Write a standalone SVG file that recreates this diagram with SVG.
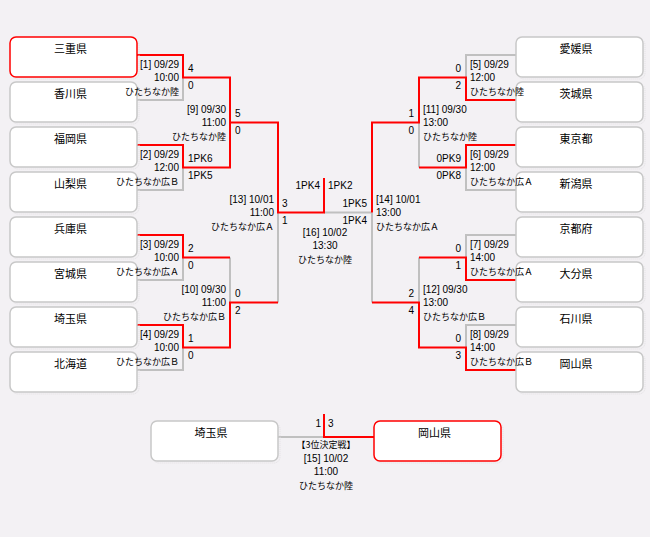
<svg xmlns="http://www.w3.org/2000/svg" width="650" height="537" viewBox="0 0 650 537">
<defs>
<style>
.bg{fill:#f3f1f4}
.box rect.b{fill:#ffffff;stroke:#c8c8c8;stroke-width:1.5}
.box rect.s{fill:none;stroke:#e2e0e3;stroke-width:1;stroke-dasharray:1 1}
.box.win rect.b{stroke:#ff0000}
.nm{font-family:"Noto Sans CJK JP","Liberation Sans",sans-serif;font-size:11px;fill:#000;text-anchor:middle}
.t{font-family:"Liberation Sans","Noto Sans CJK JP",sans-serif;font-size:10px;fill:#000}
.j{font-family:"Noto Sans CJK JP","Liberation Sans",sans-serif;font-size:9px;fill:#000}
.e{text-anchor:end}
.m{text-anchor:middle}
.g{fill:none;stroke:#c0c0c0;stroke-width:2}
.r{fill:none;stroke:#ff0000;stroke-width:2}
</style>
</defs>
<rect class="bg" x="0" y="0" width="650" height="537"/>

<g id="connectors">
  <!-- left gray -->
  <polyline class="g" points="137,100 183,100 183,77.5"/>
  <polyline class="g" points="137,190 183,190 183,167.5"/>
  <polyline class="g" points="137,280 183,280 183,257.5"/>
  <polyline class="g" points="137,370 183,370 183,347.5"/>
  <polyline class="g" points="230,257.5 230,302.5"/>
  <polyline class="g" points="278,212.5 278,302.5"/>
  <polyline class="g" points="324,212.5 372,212.5"/>
  <!-- right gray -->
  <polyline class="g" points="516,55 466,55 466,77.5"/>
  <polyline class="g" points="516,190 466,190 466,167.5"/>
  <polyline class="g" points="516,235 466,235 466,257.5"/>
  <polyline class="g" points="516,325 466,325 466,347.5"/>
  <polyline class="g" points="419,122.5 419,167.5"/>
  <polyline class="g" points="419,257.5 419,302.5"/>
  <polyline class="g" points="372,212.5 372,302.5"/>
  <!-- third place gray -->
  <polyline class="g" points="278,437 324,437"/>

  <!-- left red -->
  <polyline class="r" points="137,55 183,55 183,77.5 230,77.5 230,122.5 278,122.5 278,212.5 324,212.5 324,178"/>
  <polyline class="r" points="137,145 183,145 183,167.5 230,167.5 230,122.5"/>
  <polyline class="r" points="137,235 183,235 183,257.5 230,257.5"/>
  <polyline class="r" points="137,325 183,325 183,347.5 230,347.5 230,302.5 278,302.5"/>
  <!-- right red -->
  <polyline class="r" points="516,100 466,100 466,77.5 419,77.5 419,122.5 372,122.5 372,212.5"/>
  <polyline class="r" points="516,145 466,145 466,167.5 419,167.5"/>
  <polyline class="r" points="516,280 466,280 466,257.5 419,257.5"/>
  <polyline class="r" points="516,370 466,370 466,347.5 419,347.5 419,302.5 372,302.5"/>
  <!-- third place red -->
  <polyline class="r" points="324,414 324,437 374,437"/>
</g>

<!-- left teams -->
<g id="team-mie" class="box win"><rect class="s" x="12" y="39" width="127" height="40" rx="6"/><rect class="b" x="10" y="37" width="127" height="40" rx="6"/><text class="nm" x="70.5" y="53">三重県</text></g>
<g id="team-kagawa" class="box"><rect class="s" x="12" y="84" width="127" height="40" rx="6"/><rect class="b" x="10" y="82" width="127" height="40" rx="6"/><text class="nm" x="70.5" y="98">香川県</text></g>
<g id="team-fukuoka" class="box"><rect class="s" x="12" y="129" width="127" height="40" rx="6"/><rect class="b" x="10" y="127" width="127" height="40" rx="6"/><text class="nm" x="70.5" y="143">福岡県</text></g>
<g id="team-yamanashi" class="box"><rect class="s" x="12" y="174" width="127" height="40" rx="6"/><rect class="b" x="10" y="172" width="127" height="40" rx="6"/><text class="nm" x="70.5" y="188">山梨県</text></g>
<g id="team-hyogo" class="box"><rect class="s" x="12" y="219" width="127" height="40" rx="6"/><rect class="b" x="10" y="217" width="127" height="40" rx="6"/><text class="nm" x="70.5" y="233">兵庫県</text></g>
<g id="team-miyagi" class="box"><rect class="s" x="12" y="264" width="127" height="40" rx="6"/><rect class="b" x="10" y="262" width="127" height="40" rx="6"/><text class="nm" x="70.5" y="278">宮城県</text></g>
<g id="team-saitama" class="box"><rect class="s" x="12" y="309" width="127" height="40" rx="6"/><rect class="b" x="10" y="307" width="127" height="40" rx="6"/><text class="nm" x="70.5" y="323">埼玉県</text></g>
<g id="team-hokkaido" class="box"><rect class="s" x="12" y="354" width="127" height="40" rx="6"/><rect class="b" x="10" y="352" width="127" height="40" rx="6"/><text class="nm" x="70.5" y="368">北海道</text></g>

<!-- right teams -->
<g id="team-ehime" class="box"><rect class="s" x="518" y="39" width="127" height="40" rx="6"/><rect class="b" x="516" y="37" width="127" height="40" rx="6"/><text class="nm" x="576" y="53">愛媛県</text></g>
<g id="team-ibaraki" class="box"><rect class="s" x="518" y="84" width="127" height="40" rx="6"/><rect class="b" x="516" y="82" width="127" height="40" rx="6"/><text class="nm" x="576" y="98">茨城県</text></g>
<g id="team-tokyo" class="box"><rect class="s" x="518" y="129" width="127" height="40" rx="6"/><rect class="b" x="516" y="127" width="127" height="40" rx="6"/><text class="nm" x="576" y="143">東京都</text></g>
<g id="team-niigata" class="box"><rect class="s" x="518" y="174" width="127" height="40" rx="6"/><rect class="b" x="516" y="172" width="127" height="40" rx="6"/><text class="nm" x="576" y="188">新潟県</text></g>
<g id="team-kyoto" class="box"><rect class="s" x="518" y="219" width="127" height="40" rx="6"/><rect class="b" x="516" y="217" width="127" height="40" rx="6"/><text class="nm" x="576" y="233">京都府</text></g>
<g id="team-oita" class="box"><rect class="s" x="518" y="264" width="127" height="40" rx="6"/><rect class="b" x="516" y="262" width="127" height="40" rx="6"/><text class="nm" x="576" y="278">大分県</text></g>
<g id="team-ishikawa" class="box"><rect class="s" x="518" y="309" width="127" height="40" rx="6"/><rect class="b" x="516" y="307" width="127" height="40" rx="6"/><text class="nm" x="576" y="323">石川県</text></g>
<g id="team-okayama" class="box"><rect class="s" x="518" y="354" width="127" height="40" rx="6"/><rect class="b" x="516" y="352" width="127" height="40" rx="6"/><text class="nm" x="576" y="368">岡山県</text></g>

<!-- third place teams -->
<g id="third-saitama" class="box"><rect class="s" x="153" y="423" width="127" height="40" rx="6"/><rect class="b" x="151" y="421" width="127" height="40" rx="6"/><text class="nm" x="211" y="437">埼玉県</text></g>
<g id="third-okayama" class="box win"><rect class="s" x="376" y="423" width="127" height="40" rx="6"/><rect class="b" x="374" y="421" width="127" height="40" rx="6"/><text class="nm" x="434.5" y="437">岡山県</text></g>

<!-- left match labels -->
<g id="match-1">
<text class="t e" x="179" y="68">[1] 09/29</text><text class="t e" x="179" y="81">10:00</text><text class="j e" x="179" y="95">ひたちなか陸</text>
<text class="t" x="188" y="72">4</text><text class="t" x="188" y="89">0</text>
</g>
<g id="match-2">
<text class="t e" x="179" y="158">[2] 09/29</text><text class="t e" x="179" y="171">12:00</text><text class="j e" x="179" y="185">ひたちなか広Ｂ</text>
<text class="t" x="188" y="162">1PK6</text><text class="t" x="188" y="179">1PK5</text>
</g>
<g id="match-3">
<text class="t e" x="179" y="248">[3] 09/29</text><text class="t e" x="179" y="261">10:00</text><text class="j e" x="179" y="275">ひたちなか広Ａ</text>
<text class="t" x="188" y="252">2</text><text class="t" x="188" y="269">0</text>
</g>
<g id="match-4">
<text class="t e" x="179" y="338">[4] 09/29</text><text class="t e" x="179" y="351">10:00</text><text class="j e" x="179" y="365">ひたちなか広Ｂ</text>
<text class="t" x="188" y="342">1</text><text class="t" x="188" y="359">0</text>
</g>
<g id="match-9">
<text class="t e" x="226" y="113">[9] 09/30</text><text class="t e" x="226" y="126">11:00</text><text class="j e" x="226" y="140">ひたちなか陸</text>
<text class="t" x="235" y="117">5</text><text class="t" x="235" y="134">0</text>
</g>
<g id="match-10">
<text class="t e" x="226" y="293">[10] 09/30</text><text class="t e" x="226" y="306">11:00</text><text class="j e" x="226" y="320">ひたちなか広Ｂ</text>
<text class="t" x="235" y="297">0</text><text class="t" x="235" y="314">2</text>
</g>
<g id="match-13">
<text class="t e" x="274" y="203">[13] 10/01</text><text class="t e" x="274" y="216">11:00</text><text class="j e" x="274" y="230">ひたちなか広Ａ</text>
<text class="t" x="282" y="207">3</text><text class="t" x="282" y="224">1</text>
</g>

<!-- right match labels -->
<g id="match-5">
<text class="t" x="470" y="68">[5] 09/29</text><text class="t" x="470" y="81">12:00</text><text class="j" x="470" y="95">ひたちなか陸</text>
<text class="t e" x="461" y="72">0</text><text class="t e" x="461" y="89">2</text>
</g>
<g id="match-6">
<text class="t" x="470" y="158">[6] 09/29</text><text class="t" x="470" y="171">12:00</text><text class="j" x="470" y="185">ひたちなか広Ａ</text>
<text class="t e" x="461" y="162">0PK9</text><text class="t e" x="461" y="179">0PK8</text>
</g>
<g id="match-7">
<text class="t" x="470" y="248">[7] 09/29</text><text class="t" x="470" y="261">14:00</text><text class="j" x="470" y="275">ひたちなか広Ａ</text>
<text class="t e" x="461" y="252">0</text><text class="t e" x="461" y="269">1</text>
</g>
<g id="match-8">
<text class="t" x="470" y="338">[8] 09/29</text><text class="t" x="470" y="351">14:00</text><text class="j" x="470" y="365">ひたちなか広Ｂ</text>
<text class="t e" x="461" y="342">0</text><text class="t e" x="461" y="359">3</text>
</g>
<g id="match-11">
<text class="t" x="423" y="113">[11] 09/30</text><text class="t" x="423" y="126">13:00</text><text class="j" x="423" y="140">ひたちなか陸</text>
<text class="t e" x="414" y="117">1</text><text class="t e" x="414" y="134">0</text>
</g>
<g id="match-12">
<text class="t" x="423" y="293">[12] 09/30</text><text class="t" x="423" y="306">13:00</text><text class="j" x="423" y="320">ひたちなか広Ｂ</text>
<text class="t e" x="414" y="297">2</text><text class="t e" x="414" y="314">4</text>
</g>
<g id="match-14">
<text class="t" x="376" y="203">[14] 10/01</text><text class="t" x="376" y="216">13:00</text><text class="j" x="376" y="230">ひたちなか広Ａ</text>
<text class="t e" x="367" y="207">1PK5</text><text class="t e" x="367" y="224">1PK4</text>
</g>

<!-- final -->
<g id="match-16">
<text class="t e" x="320" y="189">1PK4</text><text class="t" x="328" y="189">1PK2</text>
<text class="t m" x="325" y="236">[16] 10/02</text><text class="t m" x="325" y="249">13:30</text><text class="j m" x="325" y="263">ひたちなか陸</text>
</g>

<!-- third place -->
<g id="match-15">
<text class="t e" x="321" y="427">1</text><text class="t" x="328" y="427">3</text>
<text class="j m" x="326" y="448">【3位決定戦】</text>
<text class="t m" x="326" y="462">[15] 10/02</text><text class="t m" x="326" y="475">11:00</text><text class="j m" x="326" y="489">ひたちなか陸</text>
</g>
</svg>
